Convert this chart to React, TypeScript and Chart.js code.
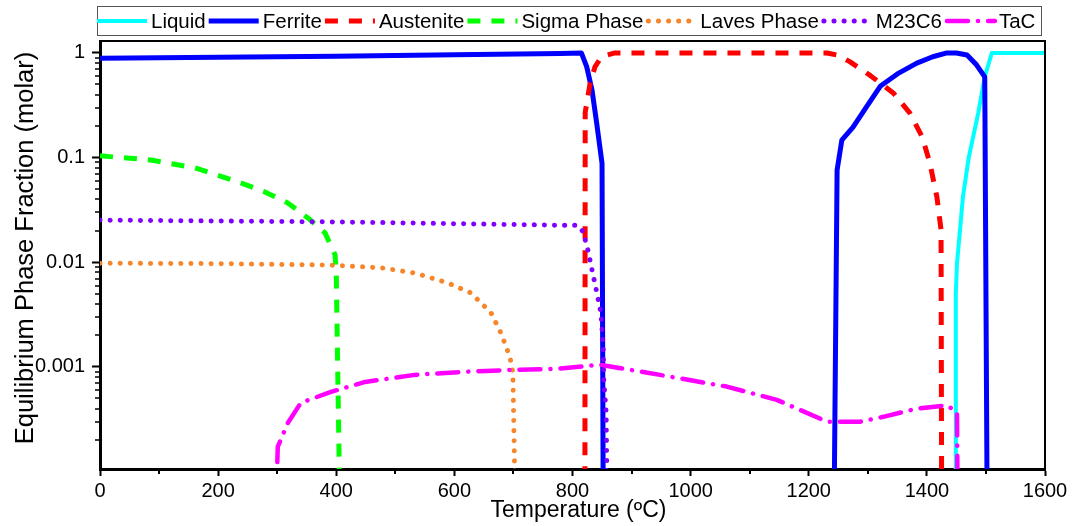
import React, { useEffect, useRef } from "react";
import { Chart, registerables } from "chart.js";

Chart.register(...registerables);

const FONT = '"Liberation Sans", Arial, sans-serif';
// value used where a phase is absent (below the axis minimum, clipped away)
const ABSENT = 5e-5;

const seriesNames = ["Liquid", "Ferrite", "Austenite", "Sigma Phase", "Laves Phase", "M23C6", "TaC"];
const seriesColors = ["#00FFFF", "#0000FF", "#FF0000", "#00FF00", "#F7852A", "#8000FF", "#FF00FF"];

const xTitle = "Temperature (ºC)";
const yTitle = "Equilibrium Phase Fraction (molar)";

const liquidT = [1448, 1449, 1451, 1456, 1461, 1471, 1487, 1498, 1510, 1600];
const liquidF = [ABSENT, 0.005, 0.0098, 0.02, 0.042, 0.101, 0.267, 0.59, 1.0, 1.0];

const ferriteT = [0, 200, 400, 600, 780, 815, 824, 833, 841, 850, 852, 1000, 1243, 1248, 1256, 1275, 1298, 1321, 1350, 1383, 1410, 1434, 1450, 1468, 1484, 1498, 1502];
const ferriteF = [0.89, 0.91, 0.93, 0.96, 0.99, 1.0, 0.74, 0.443, 0.212, 0.088, ABSENT, ABSENT, ABSENT, 0.076, 0.147, 0.196, 0.307, 0.48, 0.63, 0.8, 0.92, 1.0, 1.0, 0.957, 0.77, 0.59, ABSENT];

const austeniteT = [821, 821.5, 830, 838, 849, 872, 1231, 1250, 1270, 1304, 1343, 1371, 1392, 1405, 1417, 1424, 1425];
const austeniteF = [ABSENT, 0.27, 0.52, 0.735, 0.92, 1.0, 1.0, 0.95, 0.82, 0.61, 0.415, 0.267, 0.158, 0.089, 0.042, 0.0204, ABSENT];

const sigmaT = [0, 86, 161, 234, 279, 318, 352, 381, 398, 400, 406];
const sigmaF = [0.104, 0.095, 0.0797, 0.0586, 0.047, 0.0369, 0.0265, 0.0191, 0.0118, 0.0079, ABSENT];

const lavesT = [0, 200, 391, 476, 533, 589, 628, 662, 679, 694, 699, 703];
const lavesF = [0.0098, 0.0097, 0.0094, 0.00885, 0.0079, 0.00635, 0.0051, 0.0033, 0.0021, 0.00125, 0.00088, ABSENT];

const m23c6T = [0, 400, 775, 809, 818, 826, 833, 841, 848, 852, 853, 857, 858, 859];
const m23c6F = [0.0253, 0.0243, 0.0226, 0.0226, 0.0195, 0.0131, 0.0085, 0.0052, 0.0033, 0.00156, 0.00075, 0.000365, 0.000121, ABSENT];

const tacT = [298, 301, 318, 340, 391, 449, 533, 618, 703, 775, 847, 948, 1061, 1146, 1231, 1287, 1326, 1383, 1434, 1451, 1452];
const tacF = [ABSENT, 0.000173, 0.000292, 0.000454, 0.000578, 0.00072, 0.00084, 0.0009, 0.00094, 0.00096, 0.00105, 0.00084, 0.00065, 0.000485, 0.0003, 0.0003, 0.000334, 0.0004, 0.00043, 0.00037, ABSENT];

const xMin = 0;
const xMax = 1600;
const xStep = 200;
const xMinorTicks = [100, 300, 500, 700, 900, 1100, 1300, 1500];
const yMin = 1.06e-4;
const yMax = 1.3;
const yMajorTicks = [0.001, 0.01, 0.1, 1];
const yMinorTicks = [
  2e-4, 3e-4, 4e-4, 5e-4, 6e-4, 7e-4, 8e-4, 9e-4,
  2e-3, 3e-3, 4e-3, 5e-3, 6e-3, 7e-3, 8e-3, 9e-3,
  0.02, 0.03, 0.04, 0.05, 0.06, 0.07, 0.08, 0.09,
  0.2, 0.3, 0.4, 0.5, 0.6, 0.7, 0.8, 0.9,
];

const pts = (t: number[], f: number[]) => t.map((x, i) => ({ x, y: f[i] }));

const seriesData = [
  pts(liquidT, liquidF),
  pts(ferriteT, ferriteF),
  pts(austeniteT, austeniteF),
  pts(sigmaT, sigmaF),
  pts(lavesT, lavesF),
  pts(m23c6T, m23c6F),
  pts(tacT, tacF),
];

const seriesStyle = [
  { w: 4, dash: [], cap: "butt" },
  { w: 5, dash: [], cap: "butt" },
  { w: 5, dash: [13, 11], cap: "butt" },
  { w: 5, dash: [13, 11], cap: "butt" },
  { w: 5, dash: [0.1, 10], cap: "round" },
  { w: 5, dash: [0.1, 10], cap: "round" },
  { w: 4.5, dash: [21, 10, 0.1, 10], cap: "round" },
];

const framePlugin = {
  id: "frameAndMinor",
  afterDraw(chart: any) {
    const { ctx, chartArea } = chart;
    const { left, right, top, bottom } = chartArea;
    const xs = chart.scales.x;
    const ys = chart.scales.y;
    ctx.save();
    ctx.strokeStyle = "#000";
    ctx.lineWidth = 2;
    ctx.beginPath();
    ctx.moveTo(left, top);
    ctx.lineTo(right, top);
    ctx.lineTo(right, bottom + 1.5);
    ctx.stroke();
    ctx.beginPath();
    for (const v of xMinorTicks) {
      const px = Math.round(xs.getPixelForValue(v));
      ctx.moveTo(px, bottom);
      ctx.lineTo(px, bottom + 5);
    }
    ctx.stroke();
    ctx.lineWidth = 1.5;
    ctx.beginPath();
    for (const v of yMinorTicks) {
      const py = Math.round(ys.getPixelForValue(v));
      ctx.moveTo(left, py);
      ctx.lineTo(left - 5, py);
    }
    ctx.stroke();

    // axis titles
    ctx.fillStyle = "#000";
    ctx.textBaseline = "alphabetic";
    ctx.textAlign = "center";
    ctx.font = `23px ${FONT}`;
    ctx.fillText(xTitle, (left + right) / 2 + 6, 517);
    ctx.save();
    ctx.translate(33, (top + bottom) / 2 - 7);
    ctx.rotate(-Math.PI / 2);
    ctx.font = `25.5px ${FONT}`;
    ctx.fillText(yTitle, 0, 0);
    ctx.restore();
    ctx.restore();
  },
};

const legendPlugin = {
  id: "boxLegend",
  afterDraw(chart: any) {
    const ctx = chart.ctx;
    const boxL = 97, boxT = 6, boxR = 1041, boxB = 35;
    const midY = 21;
    ctx.save();
    ctx.strokeStyle = "#555";
    ctx.lineWidth = 1;
    ctx.strokeRect(boxL + 0.5, boxT + 0.5, boxR - boxL, boxB - boxT);
    ctx.font = `20.5px ${FONT}`;
    let x = boxL;
    chart.data.datasets.forEach((ds: any) => {
      ctx.beginPath();
      ctx.strokeStyle = ds.borderColor;
      ctx.lineWidth = ds.borderWidth;
      ctx.setLineDash(ds.borderDash || []);
      ctx.lineCap = ds.borderCapStyle || "butt";
      const off = ds.borderCapStyle === "round" ? 2 : 0;
      ctx.moveTo(x + off, midY);
      ctx.lineTo(x + 50, midY);
      ctx.stroke();
      ctx.setLineDash([]);
      ctx.fillStyle = "#000";
      ctx.textBaseline = "middle";
      ctx.textAlign = "left";
      ctx.fillText(ds.label, x + 54, midY + 1);
      x += 54 + ctx.measureText(ds.label).width + 3;
    });
    ctx.restore();
  },
};

export default function App() {
  const canvasRef = useRef<HTMLCanvasElement | null>(null);

  useEffect(() => {
    const canvas = canvasRef.current;
    if (!canvas) return;
    const n = seriesNames.length;
    const chart = new Chart(canvas, {
      type: "line",
      data: {
        datasets: seriesNames.map((name, i) => ({
          label: name,
          data: seriesData[i],
          borderColor: seriesColors[i],
          backgroundColor: seriesColors[i],
          borderWidth: seriesStyle[i].w,
          borderDash: seriesStyle[i].dash,
          borderCapStyle: seriesStyle[i].cap as any,
          borderJoinStyle: "round" as any,
          pointRadius: 0,
          tension: 0,
          fill: false,
          order: n - i,
        })),
      },
      options: {
        animation: false,
        responsive: true,
        maintainAspectRatio: false,
        parsing: false as any,
        layout: { padding: { top: 41, right: 28, left: 0, bottom: 0 } },
        plugins: {
          legend: { display: false },
          tooltip: { enabled: false },
        },
        scales: {
          x: {
            type: "linear",
            min: xMin,
            max: xMax,
            afterFit: (s: any) => {
              s.height = 57;
            },
            ticks: {
              stepSize: xStep,
              autoSkip: false,
              maxRotation: 0,
              color: "#000",
              padding: 3,
              font: { family: FONT, size: 20 },
              callback: (v: any) => String(v),
            },
            grid: {
              display: true,
              drawOnChartArea: false,
              drawTicks: true,
              tickLength: 7,
              tickWidth: 2,
              tickColor: "#000",
            },
            border: { display: true, width: 3, color: "#000" },
            title: { display: false },
          },
          y: {
            type: "logarithmic",
            min: yMin,
            max: yMax,
            bounds: "data",
            afterFit: (s: any) => {
              s.width = 100;
            },
            afterBuildTicks: (s: any) => {
              s.ticks = yMajorTicks.map((v) => ({ value: v, major: true }));
            },
            ticks: {
              autoSkip: false,
              color: "#000",
              padding: 7,
              font: { family: FONT, size: 20 },
              callback: (v: any) => String(v),
            },
            grid: {
              display: true,
              drawOnChartArea: false,
              drawTicks: true,
              tickLength: 8,
              tickWidth: 2,
              tickColor: "#000",
            },
            border: { display: true, width: 3, color: "#000" },
            title: { display: false },
          },
        },
      },
      plugins: [framePlugin, legendPlugin],
    });
    return () => {
      chart.destroy();
    };
  }, []);

  return (
    <div style={{ position: "fixed", left: 0, top: 0, width: 1073, height: 526, background: "#fff" }}>
      <canvas ref={canvasRef} />
    </div>
  );
}
